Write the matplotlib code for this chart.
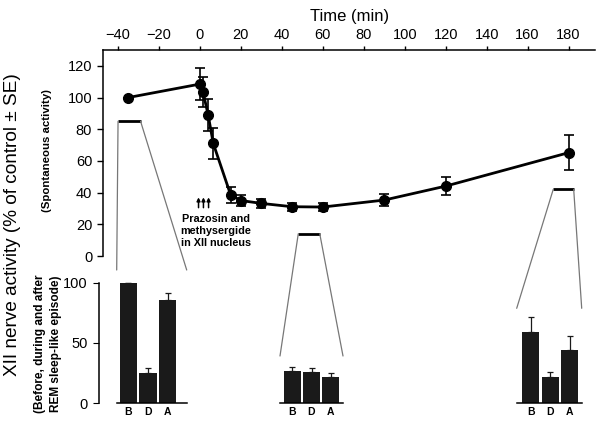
import matplotlib
matplotlib.use('Agg')
import matplotlib.pyplot as plt
from matplotlib.patches import ConnectionPatch

plt.rcParams['font.family'] = ['Liberation Sans', 'DejaVu Sans']

# time course (spontaneous activity)
time = [-35, 0, 1.5, 4, 6.5, 15, 20, 30, 45, 60, 90, 120, 180]
activity = [100, 108.5, 103.5, 89, 71, 38.5, 35, 33.2, 31.1, 30.9, 35.3, 44.1, 65.2]
activity_se = [0, 10, 9.5, 10, 9.5, 5, 3.5, 3, 2.5, 2.5, 4, 5.5, 11]

# drug application arrows
arrow_times = [-0.7, 1.7, 4.2]

# REM sleep-like episodes: before / during / after
bar_labels = ['B', 'D', 'A']
episode_start = [-40, 48, 172.5]
episode_end = [-29, 58.5, 182.5]
episode_level = [85, 14, 42]
episode_means = [[100, 25.4, 85.7], [27, 25.6, 21.8], [59.4, 22.1, 44.2]]
episode_se = [[0, 3.6, 5.5], [2.8, 3.4, 3.0], [11.9, 4.2, 11.9]]

W, H = 600, 421
fig = plt.figure(figsize=(6, 4.21), dpi=100)


def box(x0, x1, y0, y1):
    # pixel box (image coords, y down) -> figure fraction
    return [x0 / W, 1 - y1 / H, (x1 - x0) / W, (y1 - y0) / H]


ax = fig.add_axes(box(103.3, 595, 50, 256))
ax.errorbar(time, activity, yerr=activity_se, color='black', lw=2, marker='o', ms=7,
            capsize=3.5, elinewidth=1.2, capthick=1.2)
ax.set_xlim(-47.2, 192.9)
ax.set_ylim(0, 130)
ax.xaxis.tick_top()
ax.xaxis.set_label_position('top')
ax.set_xticks(range(-40, 181, 20))
ax.set_yticks(range(0, 121, 20))
ax.set_xlabel('Time (min)', fontsize=12, labelpad=5)
ax.spines['bottom'].set_visible(False)
ax.spines['right'].set_visible(False)
ax.tick_params(labelsize=10.5, width=1)
ax.tick_params(axis='x', length=3, pad=3)
ax.tick_params(axis='y', length=4.5, pad=3.5)
for s in ['top', 'left']:
    ax.spines[s].set_linewidth(1.1)

# inset bar charts, pixel boxes (left, right, top of connector)
inset_boxes = [(116.7, 186.7, 270), (280, 343, 356), (516.7, 581.7, 308.3)]
inset_xlims = [(-0.6, 2.98), (-0.64, 2.64), (-0.74, 2.63)]
px_per_unit = 1.206
base_y = 403.3
for i, (x0, x1, top) in enumerate(inset_boxes):
    ia = fig.add_axes(box(x0, x1, top, base_y))
    ia.bar(range(3), episode_means[i], width=0.88, color='#1a1a1a')
    ia.errorbar(range(3), episode_means[i], yerr=[[0, 0, 0], episode_se[i]], fmt='none',
                ecolor='#1a1a1a', elinewidth=0.9, capsize=2.2, capthick=0.9)
    ia.set_xlim(*inset_xlims[i])
    ia.set_ylim(0, (base_y - top) / px_per_unit)
    ia.set_xticks(range(3))
    ia.set_xticklabels(bar_labels, fontsize=7.5, fontweight='bold')
    ia.tick_params(axis='x', length=0, pad=3)
    for s in ['top', 'right']:
        ia.spines[s].set_visible(False)
    ia.spines['bottom'].set_linewidth(1.1)
    ia.patch.set_visible(False)
    if i == 0:
        ia.spines['left'].set_position(('outward', 13))
        ia.spines['left'].set_bounds(0, 100)
        ia.spines['left'].set_linewidth(1.1)
        ia.set_yticks([0, 50, 100])
        ia.tick_params(axis='y', labelsize=10.5, length=4.5, pad=3.5)
    else:
        ia.spines['left'].set_visible(False)
        ia.set_yticks([])

    # episode marker and zoom lines
    ax.plot([episode_start[i], episode_end[i]], [episode_level[i]] * 2, color='black', lw=2,
            clip_on=False, solid_capstyle='butt')
    for xa, xb in [(episode_start[i], 0), (episode_end[i], 1)]:
        con = ConnectionPatch(xyA=(xa, episode_level[i]), coordsA='data', axesA=ax,
                              xyB=(xb, 1), coordsB='axes fraction', axesB=ia,
                              color='#777777', lw=0.9)
        fig.add_artist(con)

for t in arrow_times:
    ax.annotate('', xy=(t, 37), xytext=(t, 30.5),
                arrowprops=dict(arrowstyle='-|>', lw=1.1, color='black',
                                mutation_scale=5, shrinkA=0, shrinkB=0))
ax.text(7.8, 15.8, 'Prazosin and\nmethysergide\nin XII nucleus', fontsize=7.8, fontweight='bold',
        ha='center', va='center', linespacing=1.2)

fig.text(13 / W, 1 - 225 / H, 'XII nerve activity (% of control ± SE)', rotation=90,
         fontsize=13.7, ha='center', va='center')
fig.text(47 / W, 1 - 150 / H, '(Spontaneous activity)', rotation=90, fontsize=8.2,
         fontweight='bold', ha='center', va='center')
fig.text(48 / W, 1 - 344 / H, '(Before, during and after\nREM sleep-like episode)', rotation=90,
         fontsize=8.6, fontweight='bold', ha='center', va='center', linespacing=1.45)

fig.savefig('out.png', dpi=100)
